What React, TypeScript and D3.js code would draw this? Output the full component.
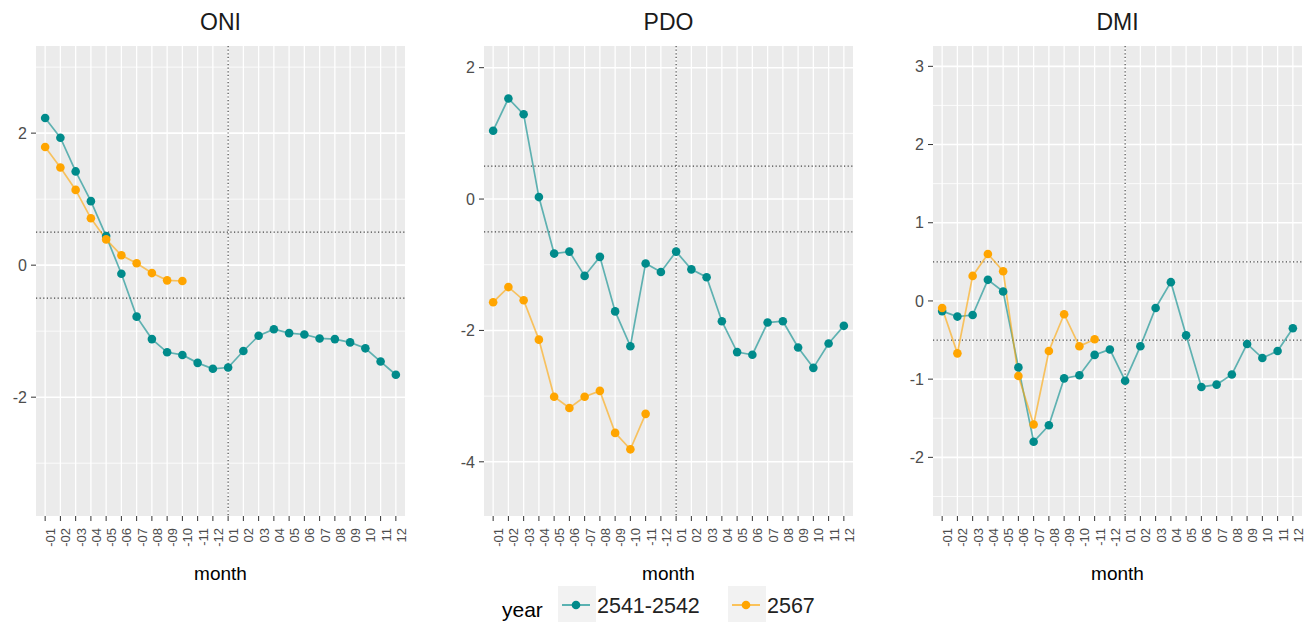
import React from "react";
import * as d3 from "d3";

const months = ["-01","-02","-03","-04","-05","-06","-07","-08","-09","-10","-11","-12","01","02","03","04","05","06","07","08","09","10","11","12"];
const seriesNames = ["2541-2542", "2567"];
const panelTitles = ["ONI", "PDO", "DMI"];

const oniA = [2.23, 1.93, 1.42, 0.97, 0.44, -0.13, -0.78, -1.12, -1.32, -1.36, -1.48, -1.57, -1.55, -1.30, -1.07, -0.97, -1.03, -1.05, -1.11, -1.12, -1.17, -1.26, -1.46, -1.66];
const oniB = [1.79, 1.48, 1.14, 0.71, 0.39, 0.15, 0.03, -0.12, -0.23, -0.24];
const pdoA = [1.04, 1.53, 1.29, 0.03, -0.83, -0.80, -1.17, -0.88, -1.71, -2.24, -0.98, -1.11, -0.80, -1.07, -1.19, -1.86, -2.33, -2.37, -1.88, -1.86, -2.26, -2.57, -2.20, -1.93];
const pdoB = [-1.57, -1.34, -1.54, -2.14, -3.01, -3.18, -3.01, -2.92, -3.56, -3.81, -3.27];
const dmiA = [-0.13, -0.20, -0.18, 0.27, 0.12, -0.85, -1.80, -1.59, -0.99, -0.95, -0.69, -0.62, -1.02, -0.58, -0.09, 0.24, -0.44, -1.10, -1.07, -0.94, -0.55, -0.73, -0.64, -0.35];
const dmiB = [-0.09, -0.67, 0.32, 0.60, 0.38, -0.96, -1.58, -0.64, -0.17, -0.58, -0.49];

const oniDomain = [-3.8, 3.32];
const pdoDomain = [-4.825, 2.33];
const dmiDomain = [-2.75, 3.26];
const oniTicks = [-2, 0, 2];
const pdoTicks = [-4, -2, 0, 2];
const dmiTicks = [-2, -1, 0, 1, 2, 3];
const thresholds = [-0.5, 0.5];
const vlineMonth = "01";

const panels = [
  { title: panelTitles[0], a: oniA, b: oniB, domain: oniDomain, ticks: oniTicks },
  { title: panelTitles[1], a: pdoA, b: pdoB, domain: pdoDomain, ticks: pdoTicks },
  { title: panelTitles[2], a: dmiA, b: dmiB, domain: dmiDomain, ticks: dmiTicks },
];

const COLORS = ["#008B8B", "#FFA500"];
const FONT = "'Liberation Sans', Arial, Helvetica, sans-serif";
const panelLefts = [36, 484, 933];
const PW = 369;
const TOP = 46;
const BOTTOM = 516;

function Panel({ p, left }: any) {
  const x = d3.scalePoint<string>().domain(months).range([left, left + PW]).padding(0.6);
  const y = d3.scaleLinear().domain(p.domain).range([BOTTOM, TOP]);
  const step = p.ticks[1] - p.ticks[0];
  const minor: number[] = [];
  for (let v = p.ticks[0] - step / 2; v <= p.domain[1]; v += step) {
    if (v >= p.domain[0]) minor.push(v);
  }
  const line = d3.line<number>().x((_, i) => x(months[i])!).y((d) => y(d));
  const cx = left + PW / 2;
  return (
    <g>
      <text x={cx} y={30} textAnchor="middle" fontSize={23} fontFamily={FONT} fill="#1a1a1a">{p.title}</text>
      <rect x={left} y={TOP} width={PW} height={BOTTOM - TOP} fill="#EBEBEB" />
      {minor.map((v) => (
        <line key={"mi" + v} x1={left} x2={left + PW} y1={y(v)} y2={y(v)} stroke="#fff" strokeWidth={0.8} />
      ))}
      {p.ticks.map((v: number) => (
        <line key={"ma" + v} x1={left} x2={left + PW} y1={y(v)} y2={y(v)} stroke="#fff" strokeWidth={1.6} />
      ))}
      {months.map((m) => (
        <line key={"vx" + m} x1={x(m)} x2={x(m)} y1={TOP} y2={BOTTOM} stroke="#fff" strokeWidth={1.3} />
      ))}
      {thresholds.map((t) => (
        <line key={"th" + t} x1={left} x2={left + PW} y1={y(t)} y2={y(t)} stroke="#444" strokeWidth={1.2} strokeDasharray="1.2,2.4" />
      ))}
      <line x1={x(vlineMonth)} x2={x(vlineMonth)} y1={TOP} y2={BOTTOM} stroke="#444" strokeWidth={1.2} strokeDasharray="1.2,2.4" />
      {[p.a, p.b].map((s: number[], k: number) => (
        <path key={"l" + k} d={line(s) || ""} fill="none" stroke={COLORS[k]} strokeOpacity={0.6} strokeWidth={1.7} />
      ))}
      {[p.a, p.b].map((s: number[], k: number) => (
        <g key={"p" + k}>
          {s.map((v, i) => (
            <circle key={i} cx={x(months[i])} cy={y(v)} r={4.3} fill={COLORS[k]} />
          ))}
        </g>
      ))}
      {p.ticks.map((v: number) => (
        <g key={"yt" + v}>
          <line x1={left - 5} x2={left} y1={y(v)} y2={y(v)} stroke="#333" strokeWidth={1} />
          <text x={left - 9} y={y(v)} dy="0.36em" textAnchor="end" fontSize={16} fontFamily={FONT} fill="#4d4d4d">{v}</text>
        </g>
      ))}
      {months.map((m) => (
        <g key={"xt" + m}>
          <line x1={x(m)} x2={x(m)} y1={BOTTOM} y2={BOTTOM + 5} stroke="#333" strokeWidth={1} />
          <text transform={`translate(${x(m)! + 10},${BOTTOM + 12}) rotate(-90)`} textAnchor="end" fontSize={13} fontFamily={FONT} fill="#4d4d4d">{m}</text>
        </g>
      ))}
      <text x={cx} y={580} textAnchor="middle" fontSize={19} fontFamily={FONT} fill="#000">month</text>
    </g>
  );
}

export default function App() {
  const keyX = [558, 728];
  return (
    <svg width={1309} height={622} style={{ position: "absolute", left: 0, top: 0, display: "block", background: "#fff" }}>
      {panels.map((p, i) => (
        <Panel key={p.title} p={p} left={panelLefts[i]} />
      ))}
      <text x={502} y={617} fontSize={21} fontFamily={FONT} fill="#000">year</text>
      {seriesNames.map((n, k) => (
        <g key={n}>
          <rect x={keyX[k]} y={586} width={38} height={38} fill="#F2F2F2" />
          <line x1={keyX[k] + 4} x2={keyX[k] + 32} y1={605} y2={605} stroke={COLORS[k]} strokeOpacity={0.7} strokeWidth={1.8} />
          <circle cx={keyX[k] + 18} cy={605} r={4.3} fill={COLORS[k]} />
          <text x={keyX[k] + 39} y={613} fontSize={21.5} fontFamily={FONT} fill="#222">{n}</text>
        </g>
      ))}
    </svg>
  );
}
